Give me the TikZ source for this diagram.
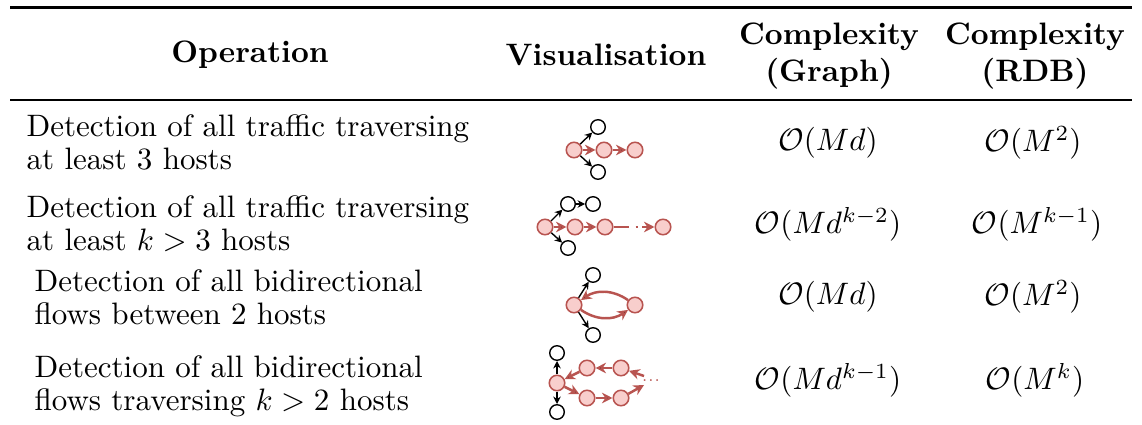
\documentclass[tikz,border=0pt]{standalone}
\usetikzlibrary{arrows.meta}

\definecolor{flowred}{HTML}{B85450}
\definecolor{flowfill}{HTML}{F8CECC}

\begin{document}
\begin{tikzpicture}[x=0.3226pt,y=-0.3226pt,
   hot/.style={circle,draw=flowred,fill=flowfill,line width=.5pt,minimum size=5pt,inner sep=0pt},
   cold/.style={circle,draw=black,line width=.45pt,minimum size=4.7pt,inner sep=0pt},
   flow/.style={draw=flowred,line width=.8pt,-{Stealth[length=3.4pt,width=3.4pt]}},
   link/.style={draw=black,line width=.45pt,-{Stealth[length=2.4pt,width=2.4pt]}},
   head/.style={font=\bfseries,align=center,inner sep=0pt},
   optext/.style={anchor=west,align=left,inner sep=0pt,font=\fontsize{10}{10.6}\selectfont},
   cost/.style={inner sep=0pt}]

   \useasboundingbox (0,0) rectangle (1142,425);

   % rules
   \draw[line width=.85pt] (10,7.5) -- (1132,7.5);
   \draw[line width=.5pt] (10,100) -- (1132,100);

   % header
   \node[head] (h1) at (250,55) {Operation};
   \node[head] (h2) at (606,55) {Visualisation};
   \node[head] (h3) at (829,56) {Complexity\\(Graph)};
   \node[head] (h4) at (1035,56) {Complexity\\(RDB)};

   % operations
   \node[optext] (op1) at (26,142) {Detection of all traffic traversing\\at least 3 hosts};
   \node[optext] (op2) at (26,224) {Detection of all traffic traversing\\at least $k>3$ hosts};
   \node[optext] (op3) at (34,297) {Detection of all bidirectional\\flows between 2 hosts};
   \node[optext] (op4) at (34,386) {Detection of all bidirectional\\flows traversing $k>2$ hosts};

   % complexities
   \node[cost] (g1) at (828,143) {$\mathcal{O}(Md)$};
   \node[cost] (r1) at (1033,143) {$\mathcal{O}(M^2)$};
   \node[cost] (g2) at (828,224) {$\mathcal{O}(Md^{k-2})$};
   \node[cost] (r2) at (1037,224) {$\mathcal{O}(M^{k-1})$};
   \node[cost] (g3) at (828,297) {$\mathcal{O}(Md)$};
   \node[cost] (r3) at (1033,297) {$\mathcal{O}(M^2)$};
   \node[cost] (g4) at (828,380) {$\mathcal{O}(Md^{k-1})$};
   \node[cost] (r4) at (1035,380) {$\mathcal{O}(M^k)$};

   % row 1
   \node[hot] (a0) at (574,150) {};
   \node[hot] (a1) at (604,150) {};
   \node[hot] (a2) at (635,150) {};
   \node[cold] (a3) at (598,127) {};
   \node[cold] (a4) at (598,172) {};
   \path[flow] (a0) edge (a1);
   \path[flow] (a1) edge (a2);
   \path[link] (a0) edge (a3);
   \path[link] (a0) edge (a4);

   % row 2
   \node[hot] (b0) at (545,227) {};
   \node[hot] (b1) at (575,227) {};
   \node[hot] (b2) at (605,227) {};
   \node[hot] (b3) at (663,227) {};
   \node[cold] (b4) at (568,204) {};
   \node[cold] (b5) at (593,204) {};
   \node[cold] (b6) at (568,248) {};
   \coordinate (bd0) at (627,227);
   \coordinate (bd1) at (642,227);
   \path[flow] (b0) edge (b1);
   \path[flow] (b1) edge (b2);
   \draw[draw=flowred,line width=.8pt] (b2) -- (bd0);
   \draw[draw=flowred,line width=.8pt,dotted] (bd0) -- (bd1);
   \draw[flow] (bd1) -- (b3);
   \path[link] (b0) edge (b4);
   \path[link] (b4) edge (b5);
   \path[link] (b0) edge (b6);

   % row 3
   \node[hot] (c0) at (574,305) {};
   \node[hot] (c1) at (635,305) {};
   \node[cold] (c2) at (593,275) {};
   \node[cold] (c3) at (593,335) {};
   \path[flow] (c1) edge[bend right=35] (c0);
   \path[flow] (c0) edge[bend right=35] (c1);
   \path[link] (c0) edge (c2);
   \path[link] (c0) edge (c3);

   % row 4
   \node[hot] (d0) at (557,383) {};
   \node[hot] (d1) at (587,398) {};
   \node[hot] (d2) at (621,398) {};
   \node[hot] (d3) at (621,368) {};
   \node[hot] (d4) at (587,368) {};
   \node[cold] (d5) at (557,353) {};
   \node[cold] (d6) at (557,412) {};
   \node[text=flowred,inner sep=0pt,font=\tiny] (d7) at (651,381) {...};
   \coordinate (d8) at (644,385);
   \coordinate (d9) at (644,376);
   \path[flow] (d0) edge (d1);
   \path[flow] (d1) edge (d2);
   \draw[flow] (d2) -- (d8);
   \draw[flow] (d9) -- (d3);
   \path[flow] (d3) edge (d4);
   \path[flow] (d4) edge (d0);
   \path[link] (d0) edge (d5);
   \path[link] (d0) edge (d6);
\end{tikzpicture}
\end{document}
